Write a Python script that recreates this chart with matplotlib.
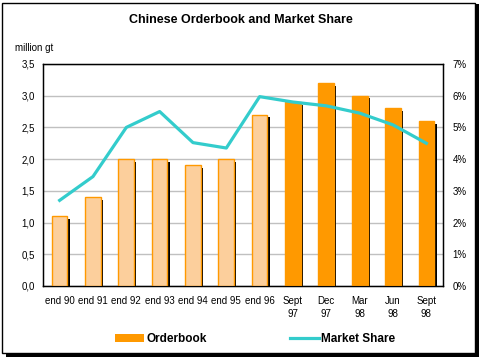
import matplotlib
matplotlib.use("Agg")
import matplotlib.pyplot as plt
from matplotlib.patches import Rectangle
from matplotlib.lines import Line2D
from matplotlib.ticker import FuncFormatter

categories = ["end 90", "end 91", "end 92", "end 93", "end 94", "end 95", "end 96",
              "Sept\n97", "Dec\n97", "Mar\n98", "Jun\n98", "Sept\n98"]
orderbook = [1.1, 1.4, 2.0, 2.0, 1.9, 2.0, 2.7, 2.9, 3.2, 3.0, 2.8, 2.6]
market_share = [2.7, 3.45, 5.0, 5.5, 4.52, 4.35, 5.97, 5.8, 5.68, 5.45, 5.08, 4.5]
n_estimated = 7  # first seven columns drawn in light colour

light_fill = "#FCCF9C"
orange = "#FF9900"
teal = "#33CCCC"

plt.rcParams["font.family"] = ["Liberation Sans", "DejaVu Sans"]

fig = plt.figure(figsize=(4.84, 3.61), dpi=100)

# frame with drop shadow round the whole chart
fig.patches.append(Rectangle((0.012, 0.012), 0.978, 0.978, transform=fig.transFigure,
                             facecolor="black", edgecolor="none", zorder=-3))
fig.patches.append(Rectangle((0.004, 0.022), 0.978, 0.970, transform=fig.transFigure,
                             facecolor="white", edgecolor="black", linewidth=1, zorder=-2))

ax = fig.add_axes([0.0888, 0.2078, 0.8265, 0.615])
x = list(range(len(categories)))
w = 0.47

# shadows
ax.bar([i + 0.07 for i in x], [h - 0.04 for h in orderbook], width=w,
       color="black", zorder=2)
colors = [light_fill if i < n_estimated else orange for i in x]
ax.bar(x, orderbook, width=w, color=colors, edgecolor=orange, linewidth=1, zorder=3)

ax.set_ylim(0, 3.5)
ax.set_xlim(-0.5, len(categories) - 0.5)
ax.set_yticks([i * 0.5 for i in range(8)])
ax.yaxis.set_major_formatter(FuncFormatter(lambda v, p: f"{v:.1f}".replace(".", ",")))
ax.set_xticks(x)
ax.set_xticklabels(categories, fontsize=7, linespacing=1.45)
ax.tick_params(axis="both", length=0, labelsize=7, pad=7)
ax.tick_params(axis="y", pad=6)
ax.grid(axis="y", color="#C0C0C0", linewidth=1)
ax.set_axisbelow(True)
for s in ax.spines.values():
    s.set_linewidth(1)

ax2 = ax.twinx()
ax2.plot(x, market_share, color=teal, linewidth=2.3, zorder=5)
ax2.set_ylim(0, 7)
ax2.set_yticks(range(8))
ax2.yaxis.set_major_formatter(FuncFormatter(lambda v, p: f"{v:.0f}%"))
ax2.tick_params(axis="y", length=0, labelsize=7, pad=7)
ax2.set_zorder(ax.get_zorder() + 1)
ax2.patch.set_visible(False)

fig.text(0.497, 0.944, "Chinese Orderbook and Market Share", ha="center", va="center",
         fontsize=9, fontweight="bold")
fig.text(0.03, 0.868, "million gt", ha="left", va="center", fontsize=7)

# legend
handles = [Rectangle((0, 0), 1, 1, facecolor=orange, edgecolor="none"),
           Line2D([0], [0], color=teal, linewidth=2.3)]
leg = fig.legend(handles, ["Orderbook", "Market Share"], loc="center",
                 bbox_to_anchor=(0.527, 0.06), ncol=2, frameon=False,
                 prop={"size": 8.5, "weight": "bold"}, handlelength=2.5,
                 handletextpad=0.2, columnspacing=7.0)

fig.savefig("out.png", dpi=100)
